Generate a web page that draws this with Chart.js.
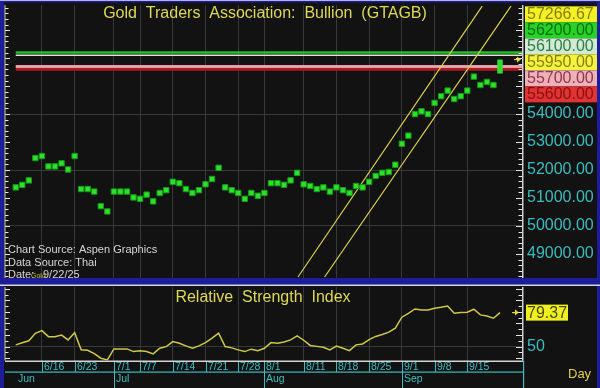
<!DOCTYPE html>
<html>
<head>
<meta charset="utf-8">
<script src="https://cdn.jsdelivr.net/npm/chart.js@4.4.1/dist/chart.umd.min.js"></script>
<style>
  html, body { margin: 0; padding: 0; background: #121212; }
  #wrap { position: relative; width: 600px; height: 388px; overflow: hidden; }
  #price { position: absolute; left: 0; top: 0; }
  #rsi { position: absolute; left: 0; top: 283px; }
</style>
</head>
<body>
<div id="wrap">
  <canvas id="price" width="600" height="283"></canvas>
  <canvas id="rsi" width="600" height="105"></canvas>
</div>
<script>
// trading days shown on the chart
const dates = [
  '6/10','6/11','6/12','6/13','6/16','6/17','6/18','6/19','6/20','6/23','6/24','6/25','6/26','6/27','6/30',
  '7/1','7/2','7/3','7/4','7/7','7/8','7/9','7/10','7/11','7/14','7/15','7/16','7/17','7/18',
  '7/21','7/22','7/23','7/24','7/25','7/28','7/29','7/30','7/31',
  '8/1','8/4','8/5','8/6','8/7','8/8','8/11','8/12','8/13','8/14','8/15','8/18','8/19','8/20','8/21','8/22',
  '8/25','8/26','8/27','8/28','8/29',
  '9/1','9/2','9/3','9/4','9/5','9/8','9/9','9/10','9/11','9/12','9/15','9/16','9/17','9/18','9/19','9/22'
];
// closes through 9/19, last day drawn as a range
const closes = [
  51380, 51470, 51630, 52430, 52500, 52130, 52130, 52240, 52020, 52500,
  51320, 51320, 51230, 50710, 50520, 51230, 51230, 51230, 51020, 50970,
  51120, 50880, 51180, 51280, 51580, 51530, 51320, 51180, 51280, 51490,
  51680, 52080, 51380, 51280, 51180, 50970, 51180, 51080, 51180, 51530,
  51530, 51470, 51630, 51900, 51490, 51430, 51320, 51380, 51230, 51380,
  51280, 51180, 51430, 51380, 51580, 51790, 51900, 51930, 52190, 52940,
  53230, 54000, 54100, 54000, 54400, 54640, 54840, 54540, 54640, 54840,
  55340, 55040, 55150, 55040
];
const lastRange = [55450, 55950];
const rsiValues = [
  51.5, 53.3, 55, 61.5, 63.8, 58.6, 58.6, 60, 55.8, 62,
  47.2, 46.8, 44, 40, 38.5, 48, 48, 48, 45.7, 46.5,
  45.7, 43.7, 48.6, 50, 54.3, 52.9, 50.6, 48.6, 50.6, 53.5,
  57.3, 61.6, 50, 48.9, 47.2, 45.7, 47.8, 46.5, 48.6, 53.5,
  53, 54, 55.8, 59.2, 55.5, 51, 50.2, 49.5, 47.2, 50.5,
  48.6, 46.5, 51.5, 52.3, 56, 58.8, 60.5, 62.5, 66, 75.4,
  78.8, 82.5, 81.7, 81.7, 83.2, 84, 85.1, 78.8, 79.4, 79.7,
  82.3, 77.4, 76.5, 74.5, 79.37
];
const levelValues = [56200, 56100, 55700, 55600];
const flagValues = [57266.67, 56200, 56100, 55950, 55700, 55600];
const upperTrend = [[43.13, 48175], [71.28, 57860]];
const lowerTrend = [[47.2, 48175], [75.68, 57860]];
const priceTicks = [49000, 50000, 51000, 52000, 53000, 54000];
const rsiTicks = [50];
const dayTicks = ['6/16','6/23','7/1','7/7','7/14','7/21','7/28','8/1','8/11','8/18','8/25','9/1','9/8','9/15'];
const monthNames = ['Jun', 'Jul', 'Aug', 'Sep'];
const monthFirstDays = ['6/10', '7/1', '8/1', '9/1'];

const X_MIN = -1.64, X_MAX = 77.36;
const TEAL = '#3cbcc0';
const FONT = '"Liberation Sans", Arial, sans-serif';

const flagFill = ['#f2f224', '#26d226', '#d2ead2', '#f4f43e', '#f0b0b8', '#e03434'];
const flagInk = ['#8c7d12', '#0e6e0e', '#2e7e4e', '#8c7d12', '#8a3a4a', '#8a1010'];
const levelColor = ['#22c022', '#cfe8cf', '#e3a0a8', '#a81c1c'];
const levelWidth = [2.5, 1.5, 3, 3];

Chart.defaults.font.family = FONT;

function xAxis() {
  return {
    type: 'linear', min: X_MIN, max: X_MAX,
    afterBuildTicks: s => { s.ticks = dayTicks.map(d => ({ value: dates.indexOf(d) })); },
    ticks: { display: false },
    grid: { color: '#383838', drawTicks: false },
    border: { display: false },
    afterFit: s => { s.height = 0; s.paddingLeft = 0; s.paddingRight = 0; }
  };
}

function yFit(s) {
  s.width = 78;
  s.paddingTop = 0;
  s.paddingBottom = 0;
}

// centre overlapping label groups on their targets
function spreadLabels(ys, h, top) {
  let groups = ys.map((y, i) => ({ members: [i], center: y }));
  let merged = true;
  while (merged) {
    merged = false;
    for (let k = 0; k < groups.length - 1; k++) {
      const a = groups[k], b = groups[k + 1];
      if (a.center + a.members.length * h / 2 > b.center - b.members.length * h / 2) {
        const members = a.members.concat(b.members);
        const center = members.reduce((s, i) => s + ys[i], 0) / members.length;
        groups.splice(k, 2, { members, center });
        merged = true;
        break;
      }
    }
    const g0 = groups[0];
    if (g0.center - g0.members.length * h / 2 < top) g0.center = top + g0.members.length * h / 2;
  }
  const out = [];
  groups.forEach(g => g.members.forEach((m, j) => {
    out[m] = g.center - g.members.length * h / 2 + h * (j + 0.5);
  }));
  return out;
}

function axisMarks(chart, step, majorEvery) {
  const { ctx, chartArea: a, scales: { y } } = chart;
  ctx.save();
  ctx.strokeStyle = '#e6e6e6';
  ctx.lineWidth = 1;
  for (let v = Math.ceil(y.min / step) * step; v <= y.max; v += step) {
    const py = Math.round(y.getPixelForValue(v)) + 0.5;
    const major = Math.round(v / step) % majorEvery === 0;
    ctx.beginPath();
    ctx.moveTo(a.left, py); ctx.lineTo(a.left + (major ? 5 : 3.5), py);
    ctx.moveTo(a.right - (major ? 6 : 3.5), py); ctx.lineTo(a.right + 1, py);
    ctx.stroke();
  }
  ctx.fillStyle = '#cfcfcf';
  ctx.fillRect(a.right, a.top, 1.5, a.bottom - a.top);
  ctx.fillRect(a.left - 0.5, a.top, 1, a.bottom - a.top);
  ctx.restore();
}

function arrow(ctx, x, y) {
  ctx.save();
  ctx.strokeStyle = '#e8d840';
  ctx.fillStyle = '#e8d840';
  ctx.lineWidth = 1.2;
  ctx.beginPath(); ctx.moveTo(x - 6, y); ctx.lineTo(x - 1, y); ctx.stroke();
  ctx.beginPath(); ctx.moveTo(x + 1, y); ctx.lineTo(x - 3, y - 3); ctx.lineTo(x - 3, y + 3); ctx.closePath(); ctx.fill();
  ctx.restore();
}

const priceFrame = {
  id: 'priceFrame',
  beforeDraw(chart) {
    const { ctx, width, height, chartArea: a } = chart;
    ctx.save();
    ctx.fillStyle = '#121212'; ctx.fillRect(0, 0, width, height);
    ctx.fillStyle = '#1d1d9a';
    ctx.fillRect(0, 0, 4, height);
    ctx.fillRect(597, 0, 3, height);
    ctx.fillRect(0, 0, width, 2.5);
    ctx.fillRect(0, a.bottom, width, height - a.bottom);
    ctx.fillStyle = '#b4b4e4'; ctx.fillRect(0, 0, width, 1);
    ctx.restore();
  },
  afterDraw(chart) {
    const { ctx, chartArea: a, scales: { y } } = chart;
    axisMarks(chart, 200, 5);
    ctx.save();
    ctx.fillStyle = '#dcd858';
    ctx.font = '16px ' + FONT;
    ctx.textAlign = 'center'; ctx.textBaseline = 'middle';
    ctx.fillText('Gold  Traders  Association:  Bullion  (GTAGB)', 265, 13.5);

    ctx.textAlign = 'left';
    ctx.font = '11px ' + FONT;
    ctx.fillStyle = '#d6d6d6';
    ctx.fillText('Chart Source: Aspen Graphics', a.left + 3, 250);
    ctx.fillText('Data Source: Thai', a.left + 3, 262.5);
    ctx.fillText('Date:', a.left + 3, 275);
    ctx.fillText('9/22/25', a.left + 38, 275);
    ctx.fillStyle = '#c8c040';
    ctx.font = '7px ' + FONT;
    ctx.fillText('Gold', a.left + 26, 276.5);

    // right side flags
    const ys = flagValues.map(v => y.getPixelForValue(v));
    const pos = spreadLabels(ys, 16, 1);
    ctx.font = '16px ' + FONT;
    flagValues.forEach((v, i) => {
      ctx.fillStyle = flagFill[i];
      ctx.fillRect(a.right + 3, pos[i] - 8, 72, 16);
      ctx.fillStyle = flagInk[i];
      ctx.fillText(v.toFixed(2), a.right + 5, pos[i] + 0.5);
    });
    ctx.restore();
    arrow(ctx, a.right - 2, y.getPixelForValue(lastRange[1]));
  }
};

const rsiFrame = {
  id: 'rsiFrame',
  beforeDraw(chart) {
    const { ctx, width, height } = chart;
    ctx.save();
    ctx.fillStyle = '#121212'; ctx.fillRect(0, 0, width, height);
    ctx.fillStyle = '#1d1d9a';
    ctx.fillRect(0, 0, width, 1.5);
    ctx.fillRect(0, 0, 4, height);
    ctx.fillRect(597, 0, 3, height);
    ctx.fillStyle = '#d8d8ec'; ctx.fillRect(0, 1.5, width, 1.5);
    ctx.restore();
  },
  afterDraw(chart) {
    const { ctx, chartArea: a, scales: { x, y }, height } = chart;
    axisMarks(chart, 5, 2);
    ctx.save();
    ctx.fillStyle = '#dcd858';
    ctx.font = '16px ' + FONT;
    ctx.textAlign = 'center'; ctx.textBaseline = 'middle';
    ctx.fillText('Relative  Strength  Index', 263, 14.5);

    // last RSI flag
    const last = rsiValues[rsiValues.length - 1];
    const py = y.getPixelForValue(last);
    ctx.fillStyle = '#f0f020';
    ctx.fillRect(a.right + 4, py - 8, 42, 16);
    ctx.fillStyle = '#4a4a10';
    ctx.textAlign = 'left';
    ctx.fillText(last.toFixed(2), a.right + 5, py + 0.5);
    ctx.restore();
    arrow(ctx, a.right - 4, py);

    // date axis
    ctx.save();
    const b = a.bottom;
    const right = a.right + 1;
    ctx.fillStyle = '#d4d4d4';
    ctx.fillRect(a.left, b, right - a.left, 1.5);
    ctx.fillStyle = TEAL;
    ctx.fillRect(a.left, b + 11, right - a.left, 1.2);
    ctx.fillRect(right, b, 1.2, height - b);
    ctx.font = '10.5px ' + FONT;
    ctx.textBaseline = 'middle';
    ctx.textAlign = 'left';
    dayTicks.forEach(d => {
      const px = Math.round(x.getPixelForValue(dates.indexOf(d)));
      ctx.fillRect(px, b + 1.5, 1, 10);
      ctx.fillText(d, px + 2, b + 7);
    });
    monthNames.forEach((m, i) => {
      const px = Math.round(x.getPixelForValue(dates.indexOf(monthFirstDays[i])));
      if (i > 0) ctx.fillRect(px, b + 1.5, 1, height - b);
      ctx.fillText(m, px + 2, b + 19);
    });
    ctx.fillStyle = '#e0d050';
    ctx.font = '13px ' + FONT;
    ctx.fillText('Day', 568, b + 14);
    ctx.restore();
  }
};

new Chart(document.getElementById('price'), {
  type: 'scatter',
  data: {
    datasets: [
      {
        data: closes.map((v, i) => ({ x: i, y: v })),
        pointStyle: 'rect', pointRadius: 3.8,
        backgroundColor: '#2ee02e', borderColor: '#169a16', borderWidth: 1
      },
      {
        type: 'line',
        data: lastRange.map(v => ({ x: dates.length - 1, y: v })),
        borderColor: '#2ee02e', borderWidth: 5.5, borderCapStyle: 'butt', pointRadius: 0
      },
      ...[upperTrend, lowerTrend].map(t => ({
        type: 'line',
        data: t.map(p => ({ x: p[0], y: p[1] })),
        borderColor: '#d8d050', borderWidth: 1.2, pointRadius: 0
      })),
      ...levelValues.map((v, i) => ({
        type: 'line',
        data: [{ x: 0, y: v }, { x: X_MAX, y: v }],
        borderColor: levelColor[i], borderWidth: levelWidth[i], pointRadius: 0
      }))
    ]
  },
  options: {
    responsive: false, animation: false,
    layout: { padding: { left: 5, top: 3, bottom: 3, right: 0 } },
    plugins: { legend: { display: false }, tooltip: { enabled: false } },
    scales: {
      x: xAxis(),
      y: {
        position: 'right', min: 48140, max: 57900,
        afterBuildTicks: s => { s.ticks = priceTicks.map(v => ({ value: v })); },
        ticks: { color: TEAL, font: { size: 16 }, padding: 5, callback: v => v.toFixed(2) },
        grid: { color: c => (c.tick && c.tick.value % 2000 === 0) ? '#383838' : 'rgba(0,0,0,0)', drawTicks: false },
        border: { display: false },
        afterFit: yFit
      }
    }
  },
  plugins: [priceFrame]
});

new Chart(document.getElementById('rsi'), {
  type: 'line',
  data: {
    datasets: [{
      data: rsiValues.map((v, i) => ({ x: i, y: v })),
      borderColor: '#cfc84a', borderWidth: 1.5, pointRadius: 0, tension: 0
    }]
  },
  options: {
    responsive: false, animation: false,
    layout: { padding: { left: 5, top: 4, bottom: 27.5, right: 0 } },
    plugins: { legend: { display: false }, tooltip: { enabled: false } },
    scales: {
      x: xAxis(),
      y: {
        position: 'right', min: 38, max: 101.5,
        afterBuildTicks: s => { s.ticks = rsiTicks.map(v => ({ value: v })); },
        ticks: { color: TEAL, font: { size: 16 }, padding: 5 },
        grid: { color: '#383838', drawTicks: false },
        border: { display: false },
        afterFit: yFit
      }
    }
  },
  plugins: [rsiFrame]
});
</script>
</body>
</html>
